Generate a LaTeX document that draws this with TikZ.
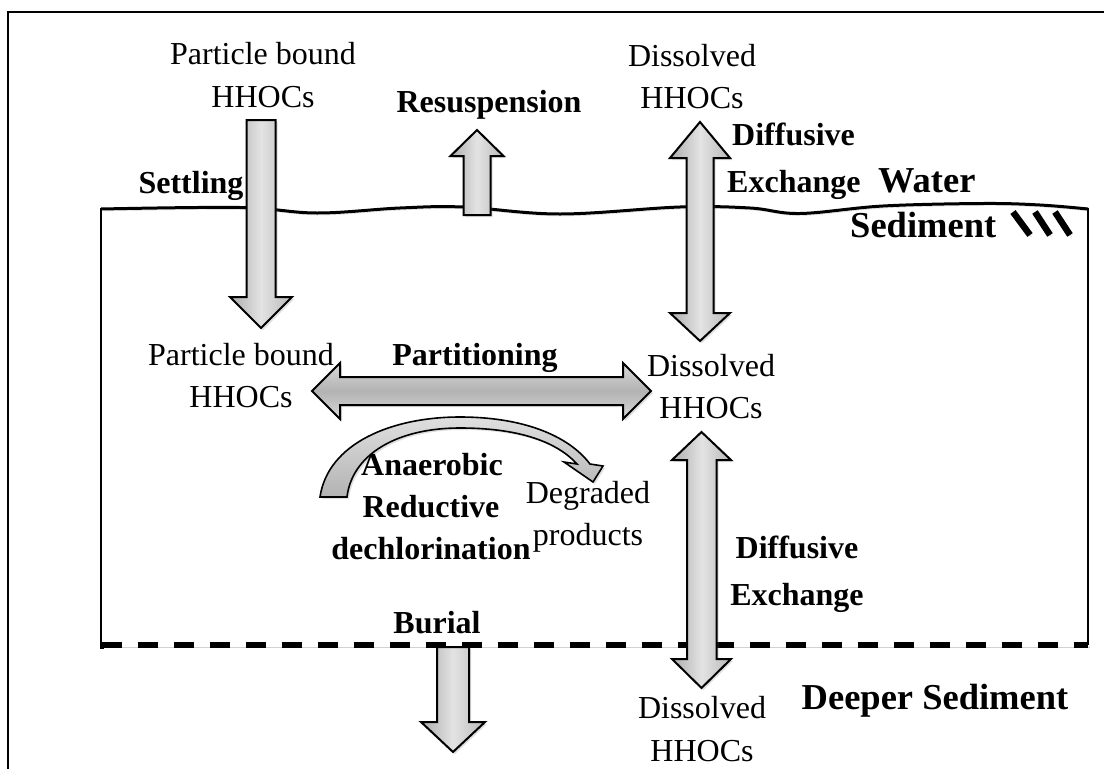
\documentclass[tikz,border=0pt]{standalone}
\usepackage{fontspec}
\setmainfont{Liberation Serif}
\usetikzlibrary{shadows}
\begin{document}
\begin{tikzpicture}[x=1pt,y=-1pt,
  reg/.style={font=\fontsize{32}{38}\selectfont, anchor=base, inner sep=0pt},
  bld/.style={font=\fontsize{32}{38}\selectfont\bfseries, anchor=base, inner sep=0pt},
  big/.style={font=\fontsize{36.5}{44}\selectfont\bfseries, anchor=base, inner sep=0pt},
  shd/.style={preaction={draw=black!35, opacity=0.5, transform canvas={shift={(1.5pt,-2pt)}}}},
  varrow/.style={draw=black, line width=2pt, line join=miter, left color=gray!65, right color=gray!55, middle color=gray!22,
     drop shadow={opacity=0.25, shadow xshift=2pt, shadow yshift=-2pt}},
  harrow/.style={draw=black, line width=2pt, line join=miter, top color=gray!30, bottom color=gray!30, middle color=gray!60,
     drop shadow={opacity=0.25, shadow xshift=2pt, shadow yshift=-2pt}}]
\useasboundingbox (0,0) rectangle (1104,769);
\fill[white] (0,0) rectangle (1104,769);
% outer frame
\draw[line width=2pt] (8,775) -- (8,12) -- (1110,12);
% water / sediment interface
\draw[line width=3pt, shd] plot[smooth, tension=0.6] coordinates {(101,209) (240,207.5) (317,213) (400,208) (463,207) (560,214) (680,207) (750,208) (800,213.5) (883,206) (983,203.5) (1040,205) (1088,209)};
\draw[line width=2pt] (101,208) -- (101,645);
\draw[line width=2pt] (1088,208) -- (1088,645);
% deeper sediment boundary
\draw[line width=5.5pt, dash pattern=on 20pt off 16pt, shd] (102,645) -- (1088,645);
\draw[line width=2pt] (101,643) -- (101,647.5) -- (104,647.5);
% hatch marks
\foreach \a/\b in {1013/1030,1035/1050,1055/1070}
  \draw[line width=6.5pt, shd] (\a,212) -- (\b,235);
% arrows
\path[varrow] (246.5,120) -- (275.5,120) -- (275.5,297) -- (292,297) -- (261,328) -- (230,297) -- (246.5,297) -- cycle;
\path[varrow] (463.5,215) -- (490.5,215) -- (490.5,156) -- (503.5,156) -- (477,130) -- (450.5,156) -- (463.5,156) -- cycle;
\path[varrow] (700,122) -- (730,158) -- (713.5,158) -- (713.5,313) -- (730,313) -- (700,341) -- (670,313) -- (686.5,313) -- (686.5,158) -- (670,158) -- cycle;
\path[harrow] (312,391) -- (340,363) -- (340,377) -- (623,377) -- (623,363) -- (651,391) -- (623,419) -- (623,405) -- (340,405) -- (340,419) -- cycle;
\path[varrow] (701.5,432) -- (731,460) -- (716.5,460) -- (716.5,659) -- (731,659) -- (701.5,688) -- (672,659) -- (687,659) -- (687,460) -- (672,460) -- cycle;
\path[varrow] (437,647) -- (469,647) -- (469,722) -- (485,722) -- (453,752) -- (421,722) -- (437,722) -- cycle;
% curved arrow
\path[draw=black, line width=1.6pt, line join=miter, top color=gray!25, bottom color=gray!60,
     drop shadow={opacity=0.25, shadow xshift=2pt, shadow yshift=-2pt}]
  (320,497) .. controls (328,443) and (392,417) .. (460,417)
  .. controls (522,417) and (568,435) .. (590,464)
  -- (603,466) -- (593,482) -- (564,462) -- (577,464)
  .. controls (555,440) and (515,428) .. (460,428)
  .. controls (396,428) and (352,455) .. (347,497) -- cycle;
% texts
\node[reg] (pbw1) at (263,64) {Particle bound};
\node[reg] (pbw2) at (263,107) {HHOCs};
\node[reg] (dw1) at (692,66) {Dissolved};
\node[reg] (dw2) at (692,108) {HHOCs};
\node[bld] (settling) at (191,193) {Settling};
\node[bld] (resusp) at (489,112) {Resuspension};
\node[bld, anchor=base west] (dif1) at (732,145) {Diffusive};
\node[bld, anchor=base west] (exc1) at (727,192) {Exchange};
\node[big, anchor=base west] (water) at (878,192) {Water};
\node[big, anchor=base west] (sed) at (850,237) {Sediment};
\node[reg] (pbs1) at (241,365) {Particle bound};
\node[reg] (pbs2) at (241,407) {HHOCs};
\node[bld] (part) at (475,365) {Partitioning};
\node[reg] (ds1) at (711,376) {Dissolved};
\node[reg] (ds2) at (711,418) {HHOCs};
\node[bld] (ana1) at (432,475) {Anaerobic};
\node[bld] (ana2) at (431,517) {Reductive};
\node[bld] (ana3) at (431,559) {dechlorination};
\node[reg] (deg1) at (588,503) {Degraded};
\node[reg] (deg2) at (588,545) {products};
\node[bld] (dif2) at (797,558) {Diffusive};
\node[bld] (exc2) at (797,605) {Exchange};
\node[bld] (burial) at (437,633) {Burial};
\node[reg] (dd1) at (702,718) {Dissolved};
\node[reg] (dd2) at (702,761) {HHOCs};
\node[big] (deeper) at (935,709) {Deeper Sediment};
\end{tikzpicture}
\end{document}
